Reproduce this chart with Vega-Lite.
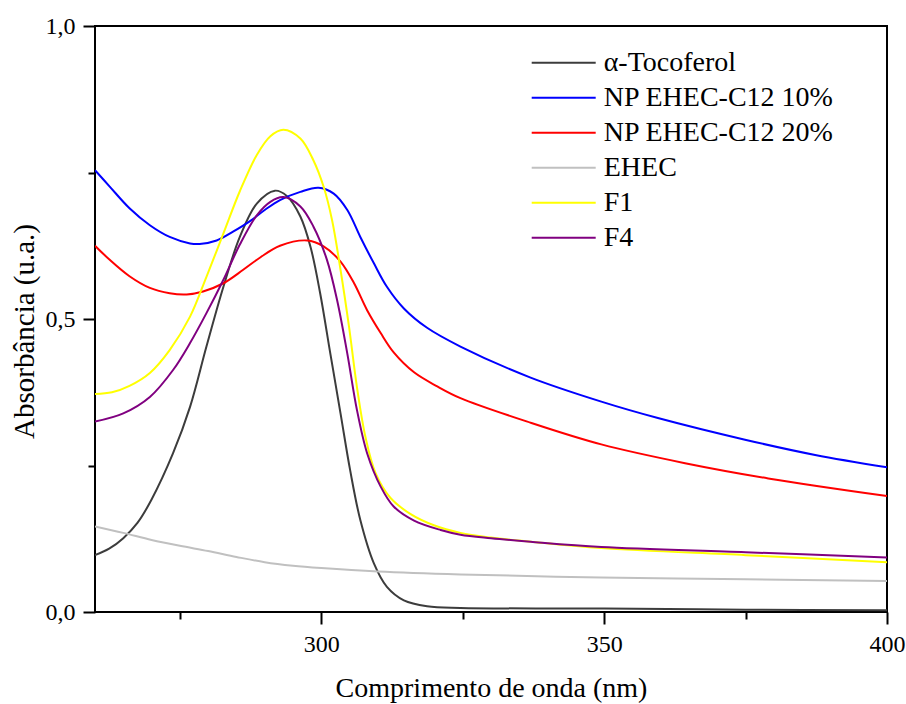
{
  "$schema": "https://vega.github.io/schema/vega-lite/v6.json",
  "width": 792,
  "height": 586,
  "autosize": {"type": "none"},
  "padding": {"left": 95, "top": 26, "right": 19, "bottom": 92},
  "background": "white",
  "config": {"view": {"stroke": "black", "strokeWidth": 2}, "font": "Liberation Serif"},
  "data": {"values": [
    {"wl": 260, "abs": 0.097, "serie": "α-Tocoferol"},
    {"wl": 262.5, "abs": 0.108, "serie": "α-Tocoferol"},
    {"wl": 265, "abs": 0.126, "serie": "α-Tocoferol"},
    {"wl": 267.5, "abs": 0.152, "serie": "α-Tocoferol"},
    {"wl": 270, "abs": 0.192, "serie": "α-Tocoferol"},
    {"wl": 273.8, "abs": 0.271, "serie": "α-Tocoferol"},
    {"wl": 276.8, "abs": 0.350, "serie": "α-Tocoferol"},
    {"wl": 279.7, "abs": 0.453, "serie": "α-Tocoferol"},
    {"wl": 282.7, "abs": 0.555, "serie": "α-Tocoferol"},
    {"wl": 285.6, "abs": 0.640, "serie": "α-Tocoferol"},
    {"wl": 288.6, "abs": 0.697, "serie": "α-Tocoferol"},
    {"wl": 291.8, "abs": 0.719, "serie": "α-Tocoferol"},
    {"wl": 293.9, "abs": 0.710, "serie": "α-Tocoferol"},
    {"wl": 296.3, "abs": 0.675, "serie": "α-Tocoferol"},
    {"wl": 298.1, "abs": 0.623, "serie": "α-Tocoferol"},
    {"wl": 299.8, "abs": 0.544, "serie": "α-Tocoferol"},
    {"wl": 301.6, "abs": 0.441, "serie": "α-Tocoferol"},
    {"wl": 303.4, "abs": 0.339, "serie": "α-Tocoferol"},
    {"wl": 305.1, "abs": 0.242, "serie": "α-Tocoferol"},
    {"wl": 306.9, "abs": 0.157, "serie": "α-Tocoferol"},
    {"wl": 309.3, "abs": 0.083, "serie": "α-Tocoferol"},
    {"wl": 311.6, "abs": 0.043, "serie": "α-Tocoferol"},
    {"wl": 314.6, "abs": 0.020, "serie": "α-Tocoferol"},
    {"wl": 318.7, "abs": 0.010, "serie": "α-Tocoferol"},
    {"wl": 324.6, "abs": 0.007, "serie": "α-Tocoferol"},
    {"wl": 350, "abs": 0.006, "serie": "α-Tocoferol"},
    {"wl": 375, "abs": 0.004, "serie": "α-Tocoferol"},
    {"wl": 400, "abs": 0.003, "serie": "α-Tocoferol"},

    {"wl": 260, "abs": 0.754, "serie": "NP EHEC-C12 10%"},
    {"wl": 262.6, "abs": 0.726, "serie": "NP EHEC-C12 10%"},
    {"wl": 266.1, "abs": 0.689, "serie": "NP EHEC-C12 10%"},
    {"wl": 269.7, "abs": 0.660, "serie": "NP EHEC-C12 10%"},
    {"wl": 273.2, "abs": 0.640, "serie": "NP EHEC-C12 10%"},
    {"wl": 276.8, "abs": 0.629, "serie": "NP EHEC-C12 10%"},
    {"wl": 278.5, "abs": 0.628, "serie": "NP EHEC-C12 10%"},
    {"wl": 281.5, "abs": 0.634, "serie": "NP EHEC-C12 10%"},
    {"wl": 284.4, "abs": 0.649, "serie": "NP EHEC-C12 10%"},
    {"wl": 287.4, "abs": 0.667, "serie": "NP EHEC-C12 10%"},
    {"wl": 290, "abs": 0.686, "serie": "NP EHEC-C12 10%"},
    {"wl": 292.7, "abs": 0.703, "serie": "NP EHEC-C12 10%"},
    {"wl": 296.3, "abs": 0.717, "serie": "NP EHEC-C12 10%"},
    {"wl": 299.5, "abs": 0.724, "serie": "NP EHEC-C12 10%"},
    {"wl": 302.2, "abs": 0.714, "serie": "NP EHEC-C12 10%"},
    {"wl": 304.6, "abs": 0.686, "serie": "NP EHEC-C12 10%"},
    {"wl": 306.9, "abs": 0.640, "serie": "NP EHEC-C12 10%"},
    {"wl": 309.3, "abs": 0.595, "serie": "NP EHEC-C12 10%"},
    {"wl": 311.6, "abs": 0.555, "serie": "NP EHEC-C12 10%"},
    {"wl": 314.6, "abs": 0.518, "serie": "NP EHEC-C12 10%"},
    {"wl": 318.7, "abs": 0.485, "serie": "NP EHEC-C12 10%"},
    {"wl": 324.6, "abs": 0.453, "serie": "NP EHEC-C12 10%"},
    {"wl": 337, "abs": 0.400, "serie": "NP EHEC-C12 10%"},
    {"wl": 349.5, "abs": 0.359, "serie": "NP EHEC-C12 10%"},
    {"wl": 359.5, "abs": 0.331, "serie": "NP EHEC-C12 10%"},
    {"wl": 374.9, "abs": 0.294, "serie": "NP EHEC-C12 10%"},
    {"wl": 387.3, "abs": 0.268, "serie": "NP EHEC-C12 10%"},
    {"wl": 400, "abs": 0.247, "serie": "NP EHEC-C12 10%"},

    {"wl": 260, "abs": 0.625, "serie": "NP EHEC-C12 20%"},
    {"wl": 262.6, "abs": 0.601, "serie": "NP EHEC-C12 20%"},
    {"wl": 266.1, "abs": 0.573, "serie": "NP EHEC-C12 20%"},
    {"wl": 269.7, "abs": 0.553, "serie": "NP EHEC-C12 20%"},
    {"wl": 273.2, "abs": 0.544, "serie": "NP EHEC-C12 20%"},
    {"wl": 276.2, "abs": 0.542, "serie": "NP EHEC-C12 20%"},
    {"wl": 279.1, "abs": 0.547, "serie": "NP EHEC-C12 20%"},
    {"wl": 282.7, "abs": 0.561, "serie": "NP EHEC-C12 20%"},
    {"wl": 286.2, "abs": 0.584, "serie": "NP EHEC-C12 20%"},
    {"wl": 289.2, "abs": 0.605, "serie": "NP EHEC-C12 20%"},
    {"wl": 292.7, "abs": 0.625, "serie": "NP EHEC-C12 20%"},
    {"wl": 297.5, "abs": 0.634, "serie": "NP EHEC-C12 20%"},
    {"wl": 300.4, "abs": 0.624, "serie": "NP EHEC-C12 20%"},
    {"wl": 303.4, "abs": 0.598, "serie": "NP EHEC-C12 20%"},
    {"wl": 305.8, "abs": 0.561, "serie": "NP EHEC-C12 20%"},
    {"wl": 308.1, "abs": 0.515, "serie": "NP EHEC-C12 20%"},
    {"wl": 310.5, "abs": 0.476, "serie": "NP EHEC-C12 20%"},
    {"wl": 312.8, "abs": 0.443, "serie": "NP EHEC-C12 20%"},
    {"wl": 316.4, "abs": 0.409, "serie": "NP EHEC-C12 20%"},
    {"wl": 320.5, "abs": 0.385, "serie": "NP EHEC-C12 20%"},
    {"wl": 324.6, "abs": 0.365, "serie": "NP EHEC-C12 20%"},
    {"wl": 337, "abs": 0.323, "serie": "NP EHEC-C12 20%"},
    {"wl": 349.5, "abs": 0.286, "serie": "NP EHEC-C12 20%"},
    {"wl": 364.3, "abs": 0.254, "serie": "NP EHEC-C12 20%"},
    {"wl": 379, "abs": 0.228, "serie": "NP EHEC-C12 20%"},
    {"wl": 400, "abs": 0.198, "serie": "NP EHEC-C12 20%"},

    {"wl": 260, "abs": 0.146, "serie": "EHEC"},
    {"wl": 265, "abs": 0.135, "serie": "EHEC"},
    {"wl": 270, "abs": 0.123, "serie": "EHEC"},
    {"wl": 275, "abs": 0.113, "serie": "EHEC"},
    {"wl": 280, "abs": 0.104, "serie": "EHEC"},
    {"wl": 285, "abs": 0.094, "serie": "EHEC"},
    {"wl": 290, "abs": 0.085, "serie": "EHEC"},
    {"wl": 295, "abs": 0.079, "serie": "EHEC"},
    {"wl": 300, "abs": 0.075, "serie": "EHEC"},
    {"wl": 310, "abs": 0.069, "serie": "EHEC"},
    {"wl": 324.6, "abs": 0.064, "serie": "EHEC"},
    {"wl": 349.4, "abs": 0.059, "serie": "EHEC"},
    {"wl": 375, "abs": 0.056, "serie": "EHEC"},
    {"wl": 400, "abs": 0.053, "serie": "EHEC"},

    {"wl": 260, "abs": 0.372, "serie": "F1"},
    {"wl": 263, "abs": 0.375, "serie": "F1"},
    {"wl": 266.1, "abs": 0.386, "serie": "F1"},
    {"wl": 269.7, "abs": 0.408, "serie": "F1"},
    {"wl": 273.2, "abs": 0.447, "serie": "F1"},
    {"wl": 276.8, "abs": 0.504, "serie": "F1"},
    {"wl": 279.7, "abs": 0.572, "serie": "F1"},
    {"wl": 282.7, "abs": 0.646, "serie": "F1"},
    {"wl": 285.6, "abs": 0.718, "serie": "F1"},
    {"wl": 288.6, "abs": 0.780, "serie": "F1"},
    {"wl": 291, "abs": 0.812, "serie": "F1"},
    {"wl": 293.3, "abs": 0.823, "serie": "F1"},
    {"wl": 296.3, "abs": 0.808, "serie": "F1"},
    {"wl": 298.6, "abs": 0.771, "serie": "F1"},
    {"wl": 300.4, "abs": 0.726, "serie": "F1"},
    {"wl": 301.9, "abs": 0.669, "serie": "F1"},
    {"wl": 303.4, "abs": 0.584, "serie": "F1"},
    {"wl": 304.9, "abs": 0.487, "serie": "F1"},
    {"wl": 306.3, "abs": 0.384, "serie": "F1"},
    {"wl": 307.8, "abs": 0.299, "serie": "F1"},
    {"wl": 309.6, "abs": 0.237, "serie": "F1"},
    {"wl": 312.2, "abs": 0.195, "serie": "F1"},
    {"wl": 315.8, "abs": 0.167, "serie": "F1"},
    {"wl": 319.9, "abs": 0.148, "serie": "F1"},
    {"wl": 324.6, "abs": 0.135, "serie": "F1"},
    {"wl": 330, "abs": 0.127, "serie": "F1"},
    {"wl": 337, "abs": 0.120, "serie": "F1"},
    {"wl": 349.5, "abs": 0.109, "serie": "F1"},
    {"wl": 375, "abs": 0.097, "serie": "F1"},
    {"wl": 400, "abs": 0.085, "serie": "F1"},

    {"wl": 260, "abs": 0.325, "serie": "F4"},
    {"wl": 265, "abs": 0.339, "serie": "F4"},
    {"wl": 269.7, "abs": 0.367, "serie": "F4"},
    {"wl": 273.8, "abs": 0.413, "serie": "F4"},
    {"wl": 276.8, "abs": 0.459, "serie": "F4"},
    {"wl": 279.7, "abs": 0.510, "serie": "F4"},
    {"wl": 282.7, "abs": 0.567, "serie": "F4"},
    {"wl": 285.6, "abs": 0.627, "serie": "F4"},
    {"wl": 288.6, "abs": 0.677, "serie": "F4"},
    {"wl": 291, "abs": 0.700, "serie": "F4"},
    {"wl": 293.3, "abs": 0.708, "serie": "F4"},
    {"wl": 296.3, "abs": 0.692, "serie": "F4"},
    {"wl": 298.6, "abs": 0.658, "serie": "F4"},
    {"wl": 301, "abs": 0.601, "serie": "F4"},
    {"wl": 302.8, "abs": 0.532, "serie": "F4"},
    {"wl": 304.6, "abs": 0.441, "serie": "F4"},
    {"wl": 306.3, "abs": 0.345, "serie": "F4"},
    {"wl": 308.1, "abs": 0.271, "serie": "F4"},
    {"wl": 310.5, "abs": 0.214, "serie": "F4"},
    {"wl": 312.8, "abs": 0.180, "serie": "F4"},
    {"wl": 316.4, "abs": 0.156, "serie": "F4"},
    {"wl": 321.1, "abs": 0.140, "serie": "F4"},
    {"wl": 324.6, "abs": 0.132, "serie": "F4"},
    {"wl": 330, "abs": 0.126, "serie": "F4"},
    {"wl": 337, "abs": 0.120, "serie": "F4"},
    {"wl": 349.5, "abs": 0.111, "serie": "F4"},
    {"wl": 375, "abs": 0.102, "serie": "F4"},
    {"wl": 400, "abs": 0.093, "serie": "F4"}
  ]},
  "mark": {"type": "line", "strokeWidth": 2, "interpolate": "catmull-rom", "clip": true},
  "encoding": {
    "x": {
      "field": "wl", "type": "quantitative",
      "scale": {"domain": [260, 400], "nice": false, "zero": false},
      "axis": {
        "values": [275, 300, 325, 350, 375, 400],
        "title": "Comprimento de onda (nm)",
        "grid": false, "domain": false,
        "tickColor": "black", "tickWidth": 2,
        "tickSize": {"condition": {"test": "datum.value % 50 !== 0", "value": 7}, "value": 12},
        "labelExpr": "datum.value % 50 === 0 ? datum.label : ''",
        "labelFont": "Liberation Serif", "labelFontSize": 24, "labelColor": "black",
        "labelPadding": 8, "labelFlush": false, "labelOverlap": false,
        "titleFont": "Liberation Serif", "titleFontSize": 28, "titleFontWeight": "normal",
        "titleColor": "black", "titlePadding": 18
      }
    },
    "y": {
      "field": "abs", "type": "quantitative",
      "scale": {"domain": [0, 1], "nice": false},
      "axis": {
        "values": [0, 0.25, 0.5, 0.75, 1],
        "title": "Absorbância (u.a.)",
        "grid": false, "domain": false,
        "tickColor": "black", "tickWidth": 2,
        "tickSize": {"condition": {"test": "indexof([0.25, 0.75], datum.value) >= 0", "value": 7}, "value": 12},
        "labelExpr": "indexof([0.25, 0.75], datum.value) >= 0 ? '' : replace(format(datum.value, '.1f'), '.', ',')",
        "labelFont": "Liberation Serif", "labelFontSize": 24, "labelColor": "black",
        "labelPadding": 8, "labelFlush": false, "labelOverlap": false,
        "titleFont": "Liberation Serif", "titleFontSize": 29, "titleFontWeight": "normal",
        "titleColor": "black", "titlePadding": 6, "titleY": 305
      }
    },
    "color": {
      "field": "serie", "type": "nominal",
      "scale": {
        "domain": ["α-Tocoferol", "NP EHEC-C12 10%", "NP EHEC-C12 20%", "EHEC", "F1", "F4"],
        "range": ["#3c3c3c", "#0000ff", "#ff0000", "#c0c0c0", "#ffff00", "#800080"]
      },
      "legend": {
        "title": null, "orient": "none", "legendX": 451.7, "legendY": 19.7,
        "symbolType": "M-2,0H2", "symbolSize": 1024, "symbolStrokeWidth": 2,
        "labelFont": "Liberation Serif", "labelFontSize": 28, "labelColor": "black",
        "labelOffset": 23, "rowPadding": 4, "padding": 0, "labelLimit": 400
      }
    }
  }
}
